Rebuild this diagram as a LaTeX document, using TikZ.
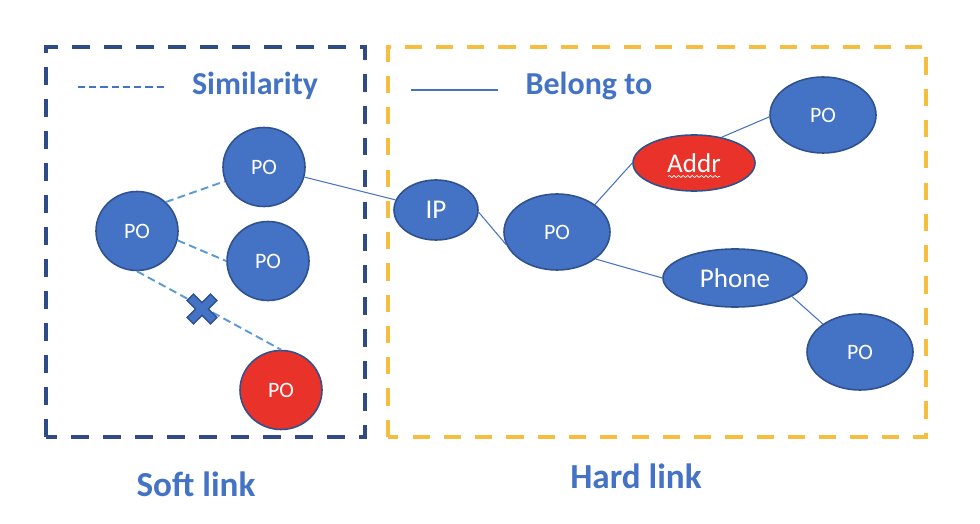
\documentclass[tikz,border=0pt]{standalone}
\usepackage{fontspec}
\setmainfont{Carlito}
\usepackage{tikz}
\usetikzlibrary{arrows.meta, positioning, shapes.geometric, decorations.pathmorphing}
\definecolor{nodeblue}{HTML}{4472C4}
\definecolor{nodeedge}{HTML}{2F528F}
\definecolor{nodered}{HTML}{E8322A}
\definecolor{frameblue}{HTML}{2F4B85}
\definecolor{framegold}{HTML}{F5BE41}
\definecolor{simblue}{HTML}{5B9BD5}

\begin{document}
\begin{tikzpicture}[
    po/.style={ellipse, draw=nodeedge, line width=0.9pt, fill=nodeblue, text=white, inner sep=0pt, minimum width=1.64cm, minimum height=1.58cm, font=\fontsize{12.5}{14}\selectfont},
    bigpo/.style={po, minimum width=2.12cm, minimum height=1.52cm},
    redpo/.style={po, fill=nodered},
    attr/.style={po, font=\fontsize{15.4}{17}\selectfont},
    softframe/.style={draw=frameblue, line width=2.8pt, dash pattern=on 10.2pt off 8pt},
    hardframe/.style={draw=framegold, line width=2.8pt, dash pattern=on 9.8pt off 8pt},
    simlink/.style={simblue, line width=1.1pt, dash pattern=on 4.5pt off 2.5pt},
    belong/.style={nodeblue, line width=0.6pt},
    legend/.style={text=nodeblue, font=\bfseries\fontsize{18.2}{21}\selectfont},
    caption/.style={text=nodeblue, font=\bfseries\fontsize{20}{24}\selectfont},
    xmark/.style={fill=nodeblue, draw=nodeedge, line width=0.8pt, line join=miter}
]
\useasboundingbox (0,0) rectangle (19.6,10.48);

\draw[softframe] (0.92,1.74) rectangle (7.30,9.54);
\draw[hardframe] (7.76,1.74) rectangle (18.52,9.54);

\coordinate (simA) at (1.56,8.74);
\coordinate (simB) at (3.28,8.74);
\draw[nodeblue, line width=1.1pt, dash pattern=on 4pt off 2.4pt] (simA) -- (simB);
\node[legend] (simtext) at (5.10,8.76) {Similarity};
\coordinate (belA) at (8.22,8.68);
\coordinate (belB) at (9.96,8.68);
\draw[nodeblue, line width=1.6pt] (belA) -- (belB);
\node[legend] (beltext) at (11.78,8.76) {Belong to};

\node[po] (pl) at (2.74,5.86) {PO};
\node[po] (pt) at (5.28,7.14) {PO};
\node[po] (pm) at (5.36,5.26) {PO};
\node[redpo] (pr) at (5.62,2.68) {PO};

\node[attr, minimum width=1.68cm, minimum height=1.20cm] (ip) at (8.72,6.28) {IP};
\node[bigpo] (pc) at (11.14,5.84) {PO};
\node[attr, fill=nodered, minimum width=2.44cm, minimum height=1.12cm] (addr) at (13.88,7.22) {Addr};
\node[bigpo] (ptr) at (16.46,8.18) {PO};
\node[attr, minimum width=2.88cm, minimum height=1.16cm] (phone) at (14.70,4.92) {Phone};
\node[bigpo] (pbr) at (17.20,3.44) {PO};

\draw[white, line width=0.4pt, decorate, decoration={snake, amplitude=0.6pt, segment length=2.6pt}]
    ([xshift=-0.52cm, yshift=-0.27cm]addr.center) -- ([xshift=0.52cm, yshift=-0.27cm]addr.center);

\draw[simlink] (pl.45) -- (pt.200);
\draw[simlink] (pl.-13) -- (pm.west);
\draw[simlink] (pl.south) -- (pr.north);

\coordinate (xm) at (4.04,4.30);
\draw[xmark, shift={(xm)}, rotate=45]
    (0.33,0.09) -- (0.09,0.09) -- (0.09,0.33) -- (-0.09,0.33) -- (-0.09,0.09) -- (-0.33,0.09)
    -- (-0.33,-0.09) -- (-0.09,-0.09) -- (-0.09,-0.33) -- (0.09,-0.33) -- (0.09,-0.09) -- (0.33,-0.09) -- cycle;

\draw[belong] (pt) -- (ip);
\draw[belong] (ip.-3) -- (pc.194);
\draw[belong] (pc.36) -- (addr.west);
\draw[belong] (addr.43) -- (ptr.182);
\draw[belong] (pc.-35) -- (phone.west);
\draw[belong] (phone.-18) -- (pbr.143);

\node[caption] (soft) at (3.92,0.80) {Soft link};
\node[caption] (hard) at (12.72,0.96) {Hard link};
\end{tikzpicture}
\end{document}
